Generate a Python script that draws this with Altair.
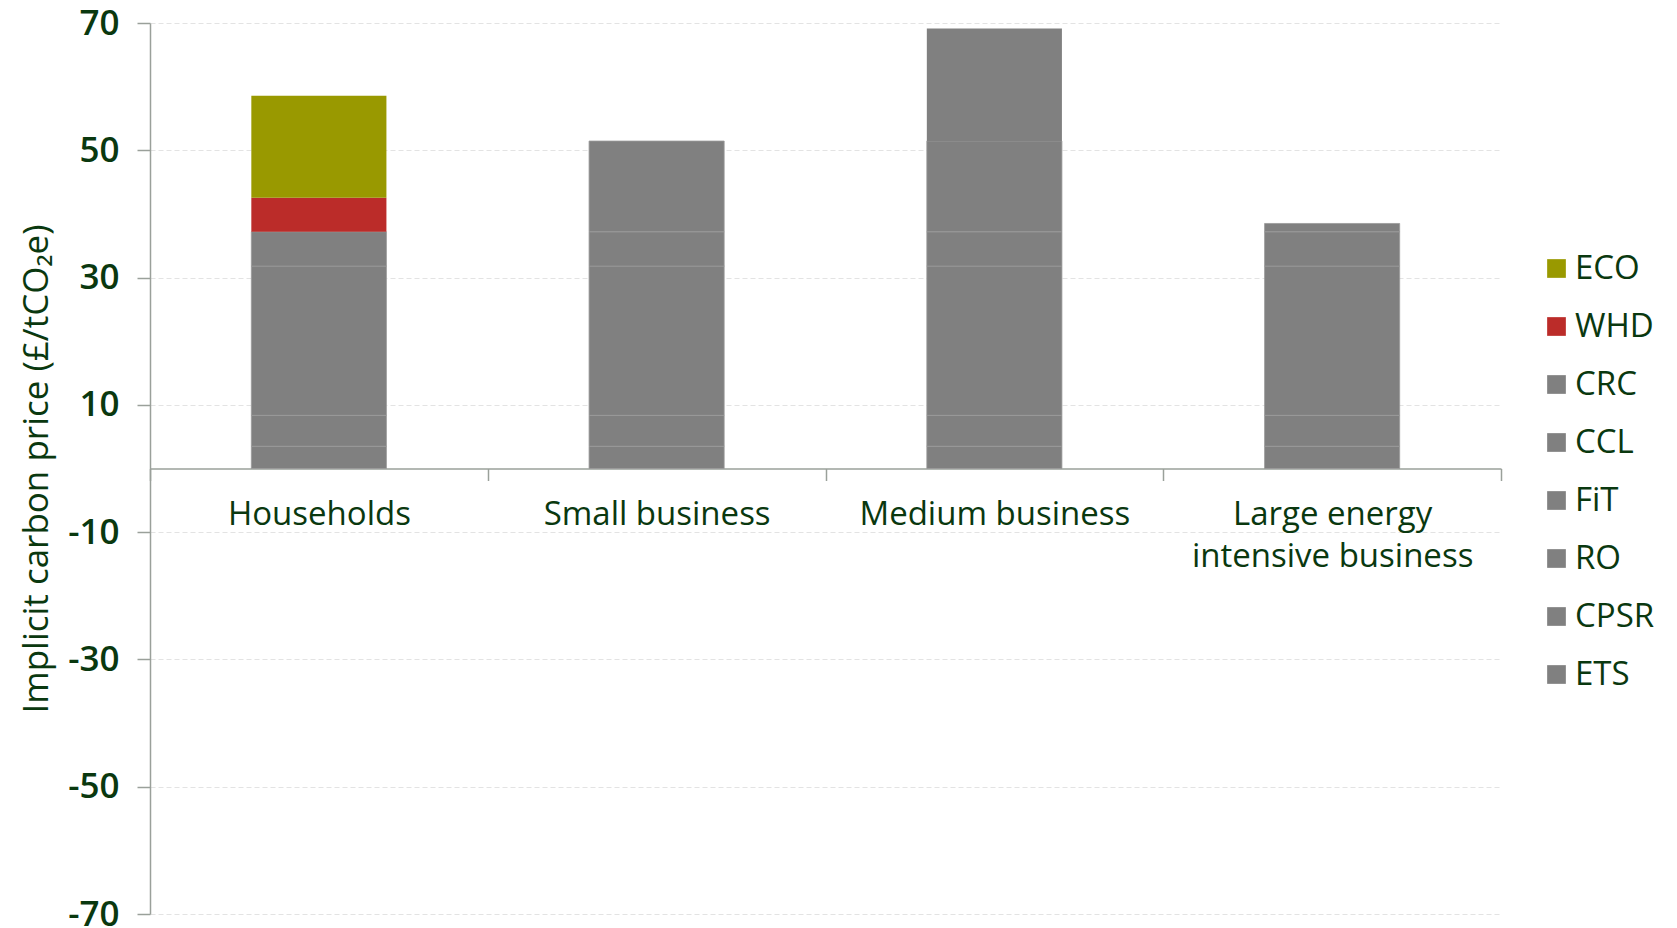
import altair as alt
import pandas as pd

categories = ["Households", "Small business", "Medium business", "Large energy intensive business"]
components = ["ETS", "CPSR", "RO", "FiT", "CCL", "CRC", "WHD", "ECO"]  # bottom -> top
ETS = [3.5, 3.5, 3.5, 3.5]
CPSR = [4.85, 4.85, 4.85, 4.85]
RO = [23.45, 23.45, 23.45, 23.45]
FiT = [5.4, 5.4, 5.4, 5.4]
CCL = [0, 14.25, 14.25, 1.3]
CRC = [0, 0, 17.7, 0]
WHD = [5.35, 0, 0, 0]
ECO = [16.0, 0, 0, 0]
series = {"ETS": ETS, "CPSR": CPSR, "RO": RO, "FiT": FiT, "CCL": CCL, "CRC": CRC, "WHD": WHD, "ECO": ECO}

legend_order = ["ECO", "WHD", "CRC", "CCL", "FiT", "RO", "CPSR", "ETS"]
colors = {"ECO": "#999900", "WHD": "#BB2C29", "CRC": "#808080", "CCL": "#808080",
          "FiT": "#808080", "RO": "#808080", "CPSR": "#808080", "ETS": "#808080"}
y_ticks = [-70, -50, -30, -10, 10, 30, 50, 70]

rows = []
for ci, c in enumerate(categories):
    for k, comp in enumerate(components):
        v = series[comp][ci]
        rows.append({"category": c, "component": comp, "order": k, "value": v})
df = pd.DataFrame(rows)

TXT = "#0a380f"
FONT = "Open Sans"
W, H = 1351, 891
AX = "#9aa09a"

bars = alt.Chart(df).transform_filter("datum.value != 0").mark_bar(
    strokeWidth=1, width=alt.RelativeBandSize(0.4)
).encode(
    x=alt.X("category:N", sort=categories, title=None,
            scale=alt.Scale(paddingInner=0, paddingOuter=0),
            axis=alt.Axis(orient="bottom", offset=-H / 2, tickBand="extent",
                          grid=False, labelLimit=0,
                          labelAngle=0, labelFont=FONT, labelFontSize=33,
                          labelColor=TXT, labelPadding=18, tickSize=12,
                          tickColor=AX, domainColor=AX,
                          domainWidth=1.5, tickWidth=1.5,
                          labelLineHeight=42,
                          labelExpr="datum.label == 'Large energy intensive business' ? ['Large energy', 'intensive business'] : datum.label")),
    y=alt.Y("value:Q", stack="zero", title="Implicit carbon price (£/tCO₂e)",
            scale=alt.Scale(domain=[-70, 70], nice=False, zero=False),
            axis=alt.Axis(values=y_ticks, labelExpr="'' + datum.value",
                          labelFont=FONT, labelFontSize=35, labelFontWeight=600,
                          labelColor=TXT,
                          labelPadding=18, tickSize=13, tickColor=AX,
                          tickWidth=1.5, domainColor=AX, domainWidth=1.5,
                          grid=True, gridColor="#e3e3e3", gridDash=[5, 3],
                          gridWidth=1.2,
                          titleFont=FONT, titleFontSize=35, titleColor=TXT,
                          titleFontWeight="normal", titlePadding=13)),
    color=alt.Color("component:N",
                    scale=alt.Scale(domain=legend_order,
                                    range=[colors[k] for k in legend_order]),
                    legend=alt.Legend(title=None, orient="none",
                                      legendX=W + 39, legendY=229,
                                      symbolType="square", symbolSize=350,
                                      symbolStrokeWidth=0,
                                      labelFont=FONT, labelFontSize=33,
                                      labelColor=TXT, rowPadding=24,
                                      labelOffset=2)),
    order=alt.Order("order:Q", sort="ascending"),
    stroke=alt.value("#9a9a9a"),
    strokeOpacity=alt.condition("datum.component == 'WHD' || datum.component == 'ECO' || datum.component == 'CRC'",
                                alt.value(0), alt.value(0.8)),
)

chart = bars.properties(
    width=W, height=H,
    background="white",
    autosize=alt.AutoSizeParams(type="none"),
    padding={"left": 150, "top": 23, "right": 176, "bottom": 14},
).configure_view(stroke=None)

chart.save("out.html", embed_options={"renderer": "svg", "actions": False})
